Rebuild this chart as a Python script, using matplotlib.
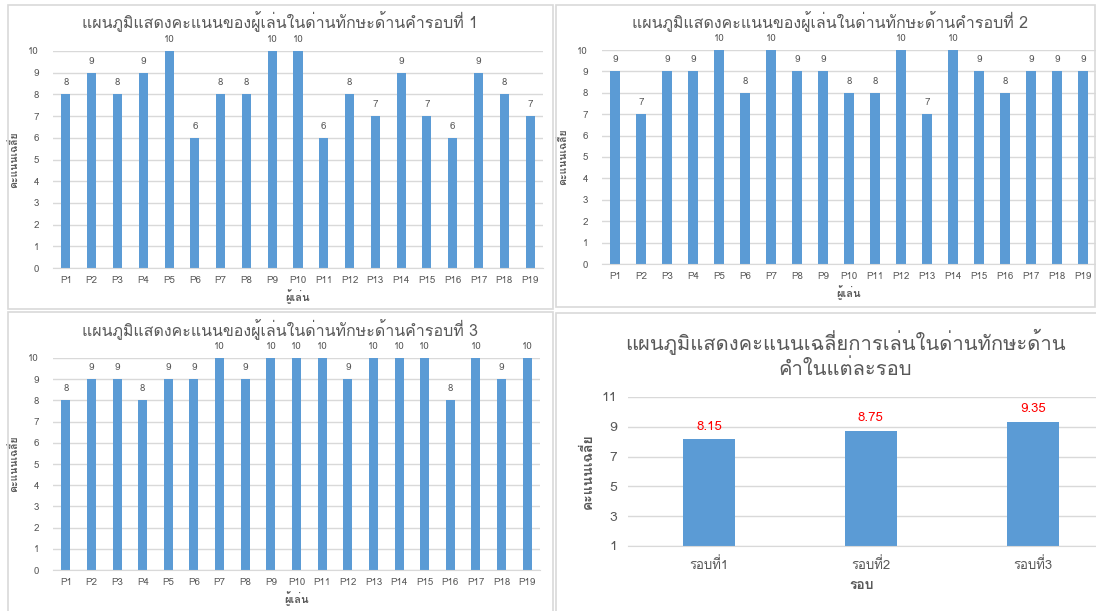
import matplotlib
matplotlib.use("Agg")
import matplotlib.pyplot as plt
from matplotlib import font_manager, ft2font
from matplotlib.patches import Rectangle

# scores per player
players = [f"P{i}" for i in range(1, 20)]
round1 = [8, 9, 8, 9, 10, 6, 8, 8, 10, 10, 6, 8, 7, 9, 7, 6, 9, 8, 7]
round2 = [9, 7, 9, 9, 10, 8, 10, 9, 9, 8, 8, 10, 7, 10, 9, 8, 9, 9, 9]
round3 = [8, 9, 9, 8, 9, 9, 10, 9, 10, 10, 10, 9, 10, 10, 10, 8, 10, 9, 10]

rounds = ["รอบที่1", "รอบที่2", "รอบที่3"]
averages = [8.15, 8.75, 9.35]

title_round = "แผนภูมิแสดงคะแนนของผู้เล่นในด่านทักษะด้านคำรอบที่ {}"
title_avg = "แผนภูมิแสดงคะแนนเฉลี่ยการเล่นในด่านทักษะด้าน\nคำในแต่ละรอบ"
ylabel = "คะแนนเฉลี่ย"
xlabel_players = "ผู้เล่น"
xlabel_rounds = "รอบ"

# find any installed font that has Thai glyphs
thai_fonts = []
for f in font_manager.fontManager.ttflist:
    try:
        if ord("ก") in ft2font.FT2Font(f.fname).get_charmap():
            if f.name not in thai_fonts:
                thai_fonts.append(f.name)
    except Exception:
        pass
plt.rcParams["font.family"] = thai_fonts + ["DejaVu Sans"]

BAR = "#5b9bd5"
GRID = "#d9d9d9"
TXT = "#595959"

W, H = 1096, 611
fig = plt.figure(figsize=(W / 100, H / 100), dpi=100)


def px_axes(x0, x1, ytop, ybot):
    return fig.add_axes([x0 / W, 1 - ybot / H, (x1 - x0) / W, (ybot - ytop) / H])


def frame(x0, x1, y0, y1):
    fig.patches.append(Rectangle((x0 / W, 1 - y1 / H), (x1 - x0) / W, (y1 - y0) / H,
                                 transform=fig.transFigure, fill=False,
                                 edgecolor="#d9d9d9", lw=1.2))


def style(ax):
    for s in ["top", "right", "left"]:
        ax.spines[s].set_visible(False)
    ax.spines["bottom"].set_color(GRID)
    ax.yaxis.grid(True, color=GRID, lw=1)
    ax.set_axisbelow(True)
    ax.tick_params(length=0, colors=TXT)


def round_chart(ax, vals, n, tx, ty):
    ax.bar(range(len(players)), vals, width=0.35, color=BAR)
    ax.set_xlim(-0.5, len(players) - 0.5)
    ax.set_ylim(0, 10)
    ax.set_yticks(range(0, 11))
    ax.set_xticks(range(len(players)))
    ax.set_xticklabels(players, fontsize=7)
    ax.tick_params(axis="y", labelsize=7, pad=10)
    ax.tick_params(axis="x", pad=6)
    style(ax)
    for i, v in enumerate(vals):
        ax.annotate(str(v), (i, v), xytext=(0, 5), textcoords="offset points",
                    ha="center", va="bottom", fontsize=7, color=TXT)
    ax.set_xlabel(xlabel_players, fontsize=8, color=TXT, fontweight="bold", labelpad=3)
    ax.set_ylabel(ylabel, fontsize=7.5, color=TXT, fontweight="bold", labelpad=6)
    fig.text(tx / W, 1 - ty / H, title_round.format(n), ha="center", va="center",
             fontsize=11.5, color=TXT)


frame(8, 553, 5, 309)
frame(556, 1095, 5, 307)
frame(8, 553, 312, 612)
frame(556, 1097, 313, 612)

ax1 = px_axes(53, 543, 51, 268)
round_chart(ax1, round1, 1, 280, 22)
ax2 = px_axes(602, 1096, 50, 264)
round_chart(ax2, round2, 2, 830, 22)
ax3 = px_axes(53, 540, 358, 570)
round_chart(ax3, round3, 3, 280, 330)

# average chart
ax4 = px_axes(628, 1096, 397, 546)
ax4.bar(range(len(rounds)), averages, width=0.32, color=BAR)
ax4.set_xlim(-0.5, 2.39)
ax4.set_ylim(1, 11)
ax4.set_yticks([1, 3, 5, 7, 9, 11])
ax4.set_xticks(range(len(rounds)))
ax4.set_xticklabels(rounds, fontsize=9.5)
ax4.tick_params(axis="y", labelsize=10, pad=8)
ax4.tick_params(axis="x", pad=8)
style(ax4)
for i, v in enumerate(averages):
    ax4.annotate(f"{v:.2f}", (i, v), xytext=(0, 5), textcoords="offset points",
                 ha="center", va="bottom", fontsize=9.5, color="red")
ax4.set_xlabel(xlabel_rounds, fontsize=10, color=TXT, fontweight="bold", labelpad=6)
ax4.set_ylabel(ylabel, fontsize=10, color=TXT, fontweight="bold", labelpad=5)
fig.text(845 / W, 1 - 354 / H, title_avg, ha="center", va="center",
         fontsize=14.5, color=TXT, linespacing=1.3)

fig.savefig("out.png", dpi=100)
